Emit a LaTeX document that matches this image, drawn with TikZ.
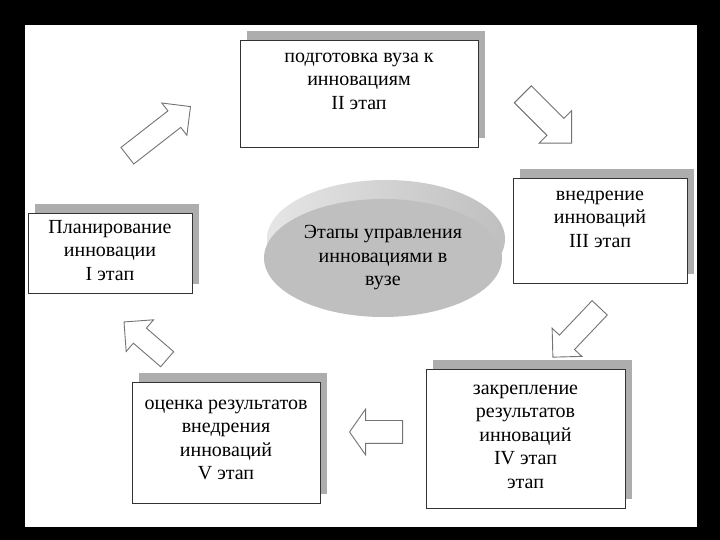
\documentclass[tikz,border=0pt]{standalone}
\usepackage{fontspec}
\setmainfont{Liberation Serif}
\usetikzlibrary{positioning, shapes.geometric, shapes.arrows, shadows}

\begin{document}
\begin{tikzpicture}[
  x=1pt, y=1pt,
  stagebox/.style={rectangle, draw=black!80, line width=0.9pt, fill=white,
    drop shadow={shadow xshift=7pt, shadow yshift=9pt, fill=black!32, opacity=1}},
  txt/.style={align=center, inner sep=0pt, font=\fontsize{20}{23.5}\selectfont},
  blockarr/.style={single arrow, draw=black!55, line width=0.9pt, fill=white,
    anchor=tail, inner xsep=0pt, minimum width=0pt, single arrow tip angle=90}
]
% frame
\fill[black] (0,0) rectangle (720,540);
\fill[white] (25,13) rectangle (697,515);

% central disk
\node[ellipse, minimum width=238pt, minimum height=118pt,
      left color=gray!20, right color=gray!50] (disk) at (386,301) {};
\node[ellipse, minimum width=238pt, minimum height=118pt, fill=gray!50, txt]
      (core) at (383,282) {Этапы управления\\ инновациями в\\ вузе};

% stages
\node[stagebox, minimum width=164pt, minimum height=80pt]  (b1) at (110,287) {};
\node[stagebox, minimum width=238pt, minimum height=107pt] (b2) at (359,446.5) {};
\node[stagebox, minimum width=174pt, minimum height=105pt] (b3) at (600,309.5) {};
\node[stagebox, minimum width=199pt, minimum height=139pt] (b4) at (525.5,101.5) {};
\node[stagebox, minimum width=188pt, minimum height=121pt] (b5) at (226,97.5) {};

\node[txt, below=4pt of b1.north] (t1) {\strut Планирование\\ инновации\\ I этап};
\node[txt, below=6pt of b2.north] (t2) {\strut подготовка вуза к\\ инновациям\\ II этап};
\node[txt, below=6pt of b3.north] (t3) {\strut внедрение\\ инноваций\\ III этап};
\node[txt, below=9pt of b4.north] (t4) {\strut закрепление\\ результатов\\ инноваций\\ IV этап\\ этап};
\node[txt, below=11pt of b5.north] (t5) {\strut оценка результатов\\ внедрения\\ инноваций\\ V этап};

% block arrows between stages
\node[blockarr, rotate=37.9, minimum height=80pt, inner ysep=10pt,
      single arrow head extend=10pt] (a12) at (127,384) {};
\node[blockarr, rotate=-45, minimum height=69pt, inner ysep=11.5pt,
      single arrow head extend=11pt] (a23) at (522.5,446) {};
\node[blockarr, rotate=226.5, minimum height=68pt, inner ysep=10pt,
      single arrow head extend=10pt] (a34) at (600,232.5) {};
\node[blockarr, rotate=180, minimum height=53pt, inner ysep=11pt,
      single arrow head extend=11.5pt, single arrow tip angle=110] (a45) at (403,108) {};
\node[blockarr, rotate=139.2, minimum height=57pt, inner ysep=9.5pt,
      single arrow head extend=11pt] (a51) at (167.5,180.5) {};
\end{tikzpicture}
\end{document}
